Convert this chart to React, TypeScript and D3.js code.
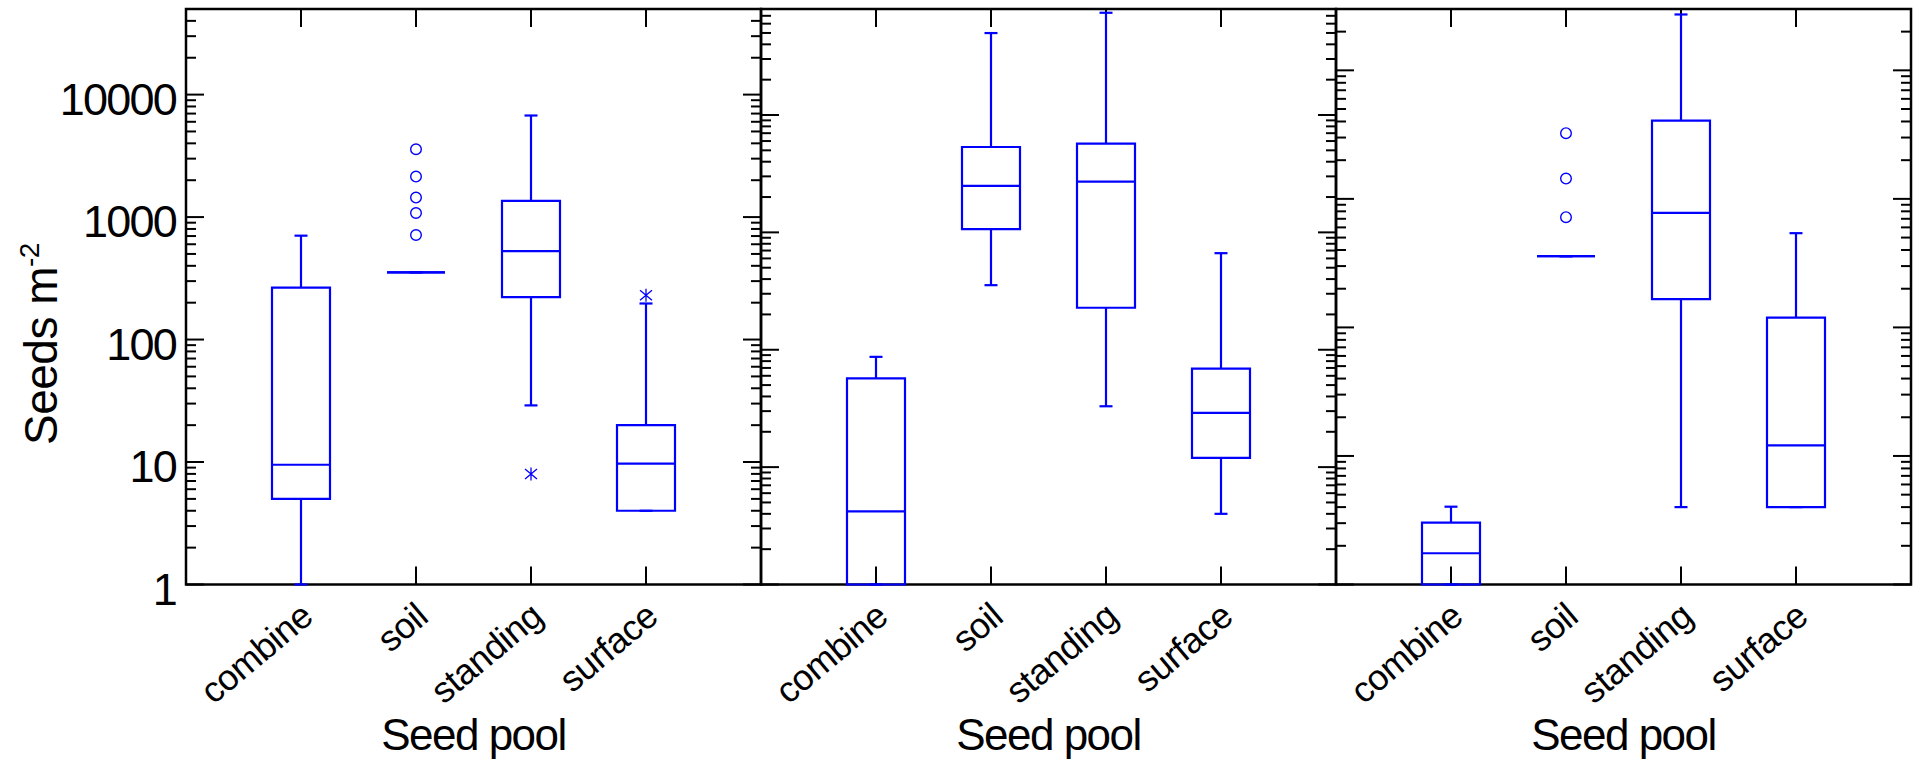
import React from "react";
import * as d3 from "d3";

// seed pools on the x axis, shared by the three panels
const categories = ["combine", "soil", "standing", "surface"];

// upper limit of each panel's log axis (all start at 1)
const panelTops = [50000, 80000, 30000];

// box statistics, one array per panel, in category order
const whiskerLow1 = [1, 354, 29, 4];
const q1Panel1 = [5, 354, 222, 4];
const median1 = [9.5, 354, 528, 9.7];
const q3Panel1 = [265, 354, 1354, 20];
const whiskerHigh1 = [705, 354, 6750, 197];

const whiskerLow2 = [1, 355, 33, 4];
const q1Panel2 = [1, 1065, 228, 12];
const median2 = [4.2, 2490, 2705, 29];
const q3Panel2 = [57, 5340, 5700, 69];
const whiskerHigh2 = [87, 49900, 74300, 665];

const whiskerLow3 = [1, 358, 4, 4];
const q1Panel3 = [1, 358, 166, 4];
const median3 = [1.75, 358, 778, 12.1];
const q3Panel3 = [3.03, 358, 4065, 119];
const whiskerHigh3 = [4.03, 358, 27200, 541];

// outliers: circles = outside values, stars = far outside values
const circles1 = [{ cat: "soil", v: 714 }, { cat: "soil", v: 1080 }, { cat: "soil", v: 1443 }, { cat: "soil", v: 2143 }, { cat: "soil", v: 3580 }];
const stars1 = [{ cat: "standing", v: 8 }, { cat: "surface", v: 230 }];
const circles3 = [{ cat: "soil", v: 721 }, { cat: "soil", v: 1439 }, { cat: "soil", v: 3245 }];

const yTickLabels = ["1", "10", "100", "1000", "10000"];

const panels = [
  { low: whiskerLow1, q1: q1Panel1, med: median1, q3: q3Panel1, high: whiskerHigh1, circles: circles1, stars: stars1 },
  { low: whiskerLow2, q1: q1Panel2, med: median2, q3: q3Panel2, high: whiskerHigh2, circles: [], stars: [] },
  { low: whiskerLow3, q1: q1Panel3, med: median3, q3: q3Panel3, high: whiskerHigh3, circles: circles3, stars: [] },
];

const W = 1913;
const H = 765;
const top = 9;
const bottom = 584.5;
const firstX = 186;
const panelW = 575;
const blue = "#0000ff";
const font = "'Liberation Sans', Arial, sans-serif";

function logTicks(max: number) {
  const out: { v: number; major: boolean }[] = [];
  for (let d = 1; d <= max; d *= 10) {
    for (let m = 1; m <= 9; m++) {
      const v = m * d;
      if (v <= max) out.push({ v, major: m === 1 });
    }
  }
  return out;
}

function Panel({ idx }: { idx: number }) {
  const p = panels[idx];
  const x0 = firstX + idx * panelW;
  const x1 = x0 + panelW;
  const y = d3.scaleLog().domain([1, panelTops[idx]]).range([bottom, top]);
  const x = d3.scalePoint().domain(categories).range([x0, x1]).padding(1);
  const ticks = logTicks(panelTops[idx]);
  const half = 29;
  const cap = 6.5;

  return (
    <g>
      {/* frame */}
      <rect x={x0} y={top} width={panelW} height={bottom - top} fill="none" stroke="#000" strokeWidth={2.5} />
      {/* y ticks, inside on both sides */}
      {ticks.map((t, i) => {
        const len = t.major ? 18 : 10;
        const yy = y(t.v);
        return (
          <g key={i} stroke="#000" strokeWidth={2}>
            <line x1={x0} x2={x0 + len} y1={yy} y2={yy} />
            <line x1={x1} x2={x1 - len} y1={yy} y2={yy} />
          </g>
        );
      })}
      {/* x ticks top and bottom */}
      {categories.map((c) => (
        <g key={c} stroke="#000" strokeWidth={2}>
          <line x1={x(c)} x2={x(c)} y1={top} y2={top + 18} />
          <line x1={x(c)} x2={x(c)} y1={bottom} y2={bottom - 18} />
        </g>
      ))}
      {/* boxes */}
      {categories.map((c, i) => {
        const cx = x(c) as number;
        const yLo = y(p.low[i]);
        const yQ1 = y(p.q1[i]);
        const yMed = y(p.med[i]);
        const yQ3 = y(p.q3[i]);
        const yHi = y(p.high[i]);
        return (
          <g key={c} stroke={blue} strokeWidth={2.2} fill="none">
            <line x1={cx} x2={cx} y1={yQ3} y2={yHi} />
            <line x1={cx} x2={cx} y1={yQ1} y2={yLo} />
            <line x1={cx - cap} x2={cx + cap} y1={yHi} y2={yHi} />
            <line x1={cx - cap} x2={cx + cap} y1={yLo} y2={yLo} />
            <path d={`M${cx - half},${yQ3}H${cx + half}V${yQ1}H${cx - half}Z`} />
            <line x1={cx - half} x2={cx + half} y1={yMed} y2={yMed} />
          </g>
        );
      })}
      {p.circles.map((o, i) => (
        <circle key={i} cx={x(o.cat)} cy={y(o.v)} r={5.3} fill="none" stroke={blue} strokeWidth={1.4} />
      ))}
      {p.stars.map((o, i) => {
        const cx = x(o.cat) as number;
        const cy = y(o.v);
        return (
          <path
            key={i}
            d={`M${cx},${cy - 6.5}V${cy + 6.5}M${cx - 6},${cy - 5}L${cx + 6},${cy + 5}M${cx - 6},${cy + 5}L${cx + 6},${cy - 5}`}
            stroke={blue}
            strokeWidth={1.3}
            fill="none"
          />
        );
      })}
      {/* category labels */}
      {categories.map((c) => (
        <text
          key={c}
          transform={`translate(${(x(c) as number) + 14},${620}) rotate(-40)`}
          textAnchor="end"
          fontSize={36}
          letterSpacing={-0.5}
          fontFamily={font}
        >
          {c}
        </text>
      ))}
      <text x={(x0 + x1) / 2} y={750} textAnchor="middle" fontSize={44} letterSpacing={-1.5} fontFamily={font}>
        Seed pool
      </text>
      {/* tick labels only on the first panel */}
      {idx === 0 &&
        yTickLabels.map((t) => (
          <text key={t} x={x0 - 10} y={y(+t) + 20} textAnchor="end" fontSize={45} letterSpacing={-1.8} fontFamily={font}>
            {t}
          </text>
        ))}
    </g>
  );
}

export default function App() {
  return (
    <svg width={W} height={H} style={{ position: "absolute", left: 0, top: 0, background: "#fff" }}>
      <rect width={W} height={H} fill="#fff" />
      {panels.map((_, i) => (
        <Panel key={i} idx={i} />
      ))}
      <text transform="translate(57,445) rotate(-90)" fontSize={46} letterSpacing={-0.5} fontFamily={font}>
        Seeds m
        <tspan fontSize={28} dy={-18}>
          -2
        </tspan>
      </text>
    </svg>
  );
}
